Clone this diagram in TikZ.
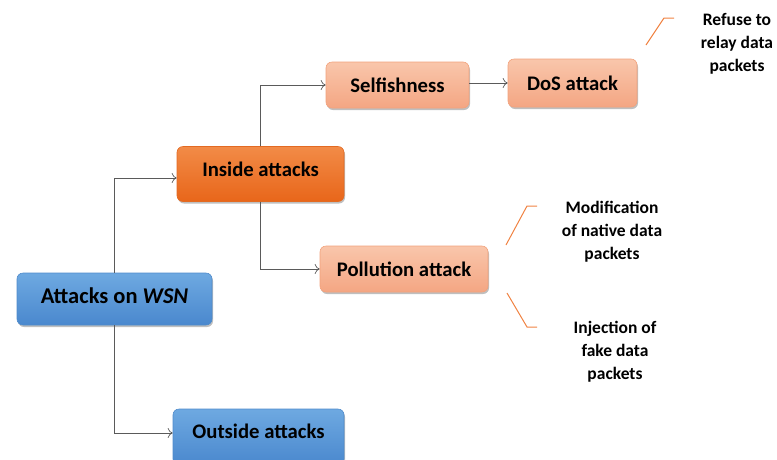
\documentclass[tikz,border=0pt]{standalone}
\usepackage{fontspec}
\setmainfont{Carlito}
\usetikzlibrary{shadows,arrows.meta}
\definecolor{bluetop}{HTML}{6EA9E1}
\definecolor{bluebot}{HTML}{4A88CE}
\definecolor{bluebrd}{HTML}{4F8BCB}
\definecolor{oratop}{HTML}{F28B47}
\definecolor{orabot}{HTML}{E8661A}
\definecolor{orabrd}{HTML}{E36A22}
\definecolor{saltop}{HTML}{F9C6AB}
\definecolor{salbot}{HTML}{F4A683}
\definecolor{salbrd}{HTML}{F2A27C}
\definecolor{linkgrey}{HTML}{5A5A5A}
\definecolor{bracecol}{HTML}{F08242}
\tikzset{
  box/.style={rounded corners=6pt, font=\bfseries\fontsize{20.7}{22}\selectfont, text=black,
    inner sep=0pt, line width=0.6pt,
    drop shadow={shadow xshift=1pt, shadow yshift=-2pt, opacity=0.25, fill=black}},
  bluebox/.style={box, top color=bluetop, bottom color=bluebot, draw=bluebrd},
  orabox/.style={box, top color=oratop, bottom color=orabot, draw=orabrd},
  salbox/.style={box, top color=saltop, bottom color=salbot, draw=salbrd},
  boxtext/.style={font=\bfseries\fontsize{20.7}{22}\selectfont, text=black},
  link/.style={draw=linkgrey, line width=0.7pt, -{To[length=5pt,width=10pt]}},
  brace/.style={draw=bracecol, line width=1pt},
  side/.style={align=center, font=\bfseries\fontsize{17.5}{23}\selectfont, text=black}
}
\begin{document}
\begin{tikzpicture}[x=1pt,y=-1pt]
\useasboundingbox (0,0) rectangle (777,459);
\clip (0,0) rectangle (777,459);
\node[bluebox, minimum width=195pt, minimum height=52pt] (wsn) at (114.5,299) {};
\node[boxtext, font=\bfseries\fontsize{22.5}{24}\selectfont] (wsntxt) at (114.5,296) {Attacks on \textit{WSN}};
\node[orabox, minimum width=167pt, minimum height=55pt] (inside) at (260.5,174) {};
\node[boxtext] (insidetxt) at (260.5,169) {Inside attacks};
\node[salbox, minimum width=143pt, minimum height=46pt] (self) at (397.5,85) {Selfishness};
\node[salbox, minimum width=129pt, minimum height=48pt] (dos) at (572.5,83) {DoS attack};
\node[salbox, minimum width=168pt, minimum height=46pt] (poll) at (404,269) {Pollution attack};
\node[bluebox, minimum width=171pt, minimum height=56pt] (outside) at (258.5,437) {};
\node[boxtext] (outtxt) at (258.5,431) {Outside attacks};

\coordinate (c1) at (114,178);
\coordinate (c2) at (114,433);
\coordinate (c3) at (260,85);
\coordinate (c4) at (260,269);
\draw[link] (wsn.north -| c1) |- (inside.west |- c1);
\draw[link] (wsn.south -| c2) |- (outside.west |- c2);
\draw[link] (inside.north -| c3) |- (self.west);
\draw[link] (inside.south -| c4) |- (poll.west);
\draw[link] (self.east |- dos.west) -- (dos.west);

\coordinate (b1a) at (646,45);
\coordinate (b1b) at (664,18);
\coordinate (b1c) at (674,18);
\coordinate (b2a) at (506,245);
\coordinate (b2b) at (527,206);
\coordinate (b2c) at (537,206);
\coordinate (b3a) at (507,293);
\coordinate (b3b) at (527,327);
\coordinate (b3c) at (537,327);
\draw[brace] (b1a) -- (b1b) -- (b1c);
\draw[brace] (b2a) -- (b2b) -- (b2c);
\draw[brace] (b3a) -- (b3b) -- (b3c);

\node[side] (refuse) at (737,44) {Refuse to\\relay data\\packets};
\node[side] (modif) at (612,232) {Modification\\of native data\\packets};
\node[side] (inject) at (615,352) {Injection of\\fake data\\packets};
\end{tikzpicture}
\end{document}
